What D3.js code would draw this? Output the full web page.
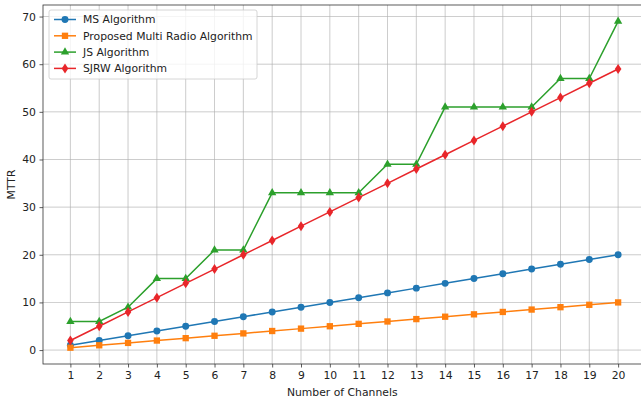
<!DOCTYPE html>
<html>
<head>
<meta charset="utf-8">
<script src="https://cdn.jsdelivr.net/npm/d3@7"></script>
<style>
  body { margin: 0; background: #fff; }
  svg text { font-family: "DejaVu Sans", sans-serif; fill: #222; }
</style>
</head>
<body>
<div id="chart"></div>
<script>
const channels = d3.range(1, 21);
const msValues = [1, 2, 3, 4, 5, 6, 7, 8, 9, 10, 11, 12, 13, 14, 15, 16, 17, 18, 19, 20];
const proposedValues = [0.5, 1, 1.5, 2, 2.5, 3, 3.5, 4, 4.5, 5, 5.5, 6, 6.5, 7, 7.5, 8, 8.5, 9, 9.5, 10];
const jsValues = [6, 6, 9, 15, 15, 21, 21, 33, 33, 33, 33, 39, 39, 51, 51, 51, 51, 57, 57, 69];
const sjrwValues = [2, 5, 8, 11, 14, 17, 20, 23, 26, 29, 32, 35, 38, 41, 44, 47, 50, 53, 56, 59];
const yTicks = [0, 10, 20, 30, 40, 50, 60, 70];

const series = [
  { name: 'MS Algorithm', values: msValues, color: '#1f77b4', marker: 'circle' },
  { name: 'Proposed Multi Radio Algorithm', values: proposedValues, color: '#ff7f0e', marker: 'square' },
  { name: 'JS Algorithm', values: jsValues, color: '#2ca02c', marker: 'triangle' },
  { name: 'SJRW Algorithm', values: sjrwValues, color: '#e8262a', marker: 'diamond' }
];

const width = 641, height = 402;
const margin = { left: 43, right: -4.5, top: 5, bottom: 38 };
const fontSize = '10.8px';

const svg = d3.select('#chart').append('svg')
  .attr('width', width).attr('height', height);

const x = d3.scaleLinear().domain([0.05, 20.95]).range([margin.left, width - margin.right]);
const y = d3.scaleLinear().domain([-2.925, 72.425]).range([height - margin.bottom, margin.top]);

// grid
const grid = svg.append('g');
grid.selectAll('line.gx').data(channels).join('line')
  .attr('x1', d => x(d)).attr('x2', d => x(d))
  .attr('y1', y.range()[0]).attr('y2', y.range()[1])
  .attr('stroke', '#b0b0b0').attr('stroke-width', 0.8).attr('opacity', 0.8);
grid.selectAll('line.gy').data(yTicks).join('line')
  .attr('x1', x.range()[0]).attr('x2', x.range()[1])
  .attr('y1', d => y(d)).attr('y2', d => y(d))
  .attr('stroke', '#b0b0b0').attr('stroke-width', 0.8).attr('opacity', 0.8);

// axes
const xAxis = svg.append('g')
  .attr('transform', `translate(0,${y.range()[0]})`)
  .call(d3.axisBottom(x).tickValues(channels).tickSize(3.5).tickPadding(3.5).tickFormat(d3.format('d')));
const yAxis = svg.append('g')
  .attr('transform', `translate(${x.range()[0]},0)`)
  .call(d3.axisLeft(y).tickValues(yTicks).tickSize(3.5).tickPadding(3.5).tickFormat(d3.format('d')));
[xAxis, yAxis].forEach(a => {
  a.selectAll('text').style('font-size', fontSize).attr('fill', '#222');
  a.selectAll('line').attr('stroke', '#333').attr('stroke-width', 0.8);
  a.select('.domain').remove();
});

// spines
svg.append('rect')
  .attr('x', x.range()[0]).attr('y', y.range()[1])
  .attr('width', x.range()[1] - x.range()[0])
  .attr('height', y.range()[0] - y.range()[1])
  .attr('fill', 'none').attr('stroke', '#333').attr('stroke-width', 0.8);

// labels
svg.append('text')
  .attr('x', (x.range()[0] + x.range()[1]) / 2 - 2).attr('y', 396)
  .attr('text-anchor', 'middle').style('font-size', fontSize)
  .text('Number of Channels');
svg.append('text')
  .attr('transform', `translate(15,${(y.range()[0] + y.range()[1]) / 2}) rotate(-90)`)
  .attr('text-anchor', 'middle').style('font-size', fontSize)
  .text('MTTR');

const thinDiamond = 'M0,-5L3.3,0L0,5L-3.3,0Z';
const symbolFor = m => ({
  circle: d3.symbol(d3.symbolCircle, 38)(),
  square: d3.symbol(d3.symbolSquare, 40)(),
  triangle: d3.symbol(d3.symbolTriangle, 30)(),
  diamond: thinDiamond
})[m];

const line = d3.line().x((d, i) => x(channels[i])).y(d => y(d));

series.forEach(s => {
  const g = svg.append('g');
  g.append('path').attr('d', line(s.values))
    .attr('fill', 'none').attr('stroke', s.color).attr('stroke-width', 1.5);
  g.selectAll('path.m').data(s.values).join('path')
    .attr('class', 'm')
    .attr('d', symbolFor(s.marker))
    .attr('transform', (d, i) => `translate(${x(channels[i])},${y(d)})`)
    .attr('fill', s.color);
});

// legend
const legend = svg.append('g').attr('transform', 'translate(49,10)');
legend.append('rect')
  .attr('width', 208).attr('height', 69).attr('rx', 2)
  .attr('fill', '#fff').attr('fill-opacity', 0.8)
  .attr('stroke', '#ccc').attr('stroke-width', 0.8);
series.forEach((s, i) => {
  const gy = 9.5 + i * 16.3;
  const row = legend.append('g').attr('transform', `translate(0,${gy})`);
  row.append('line').attr('x1', 5).attr('x2', 27).attr('y1', 0).attr('y2', 0)
    .attr('stroke', s.color).attr('stroke-width', 1.5);
  row.append('path').attr('d', symbolFor(s.marker))
    .attr('transform', 'translate(16,0)')
    .attr('fill', s.color);
  row.append('text').attr('x', 34).attr('y', 3.9)
    .style('font-size', fontSize).text(s.name);
});
</script>
</body>
</html>
